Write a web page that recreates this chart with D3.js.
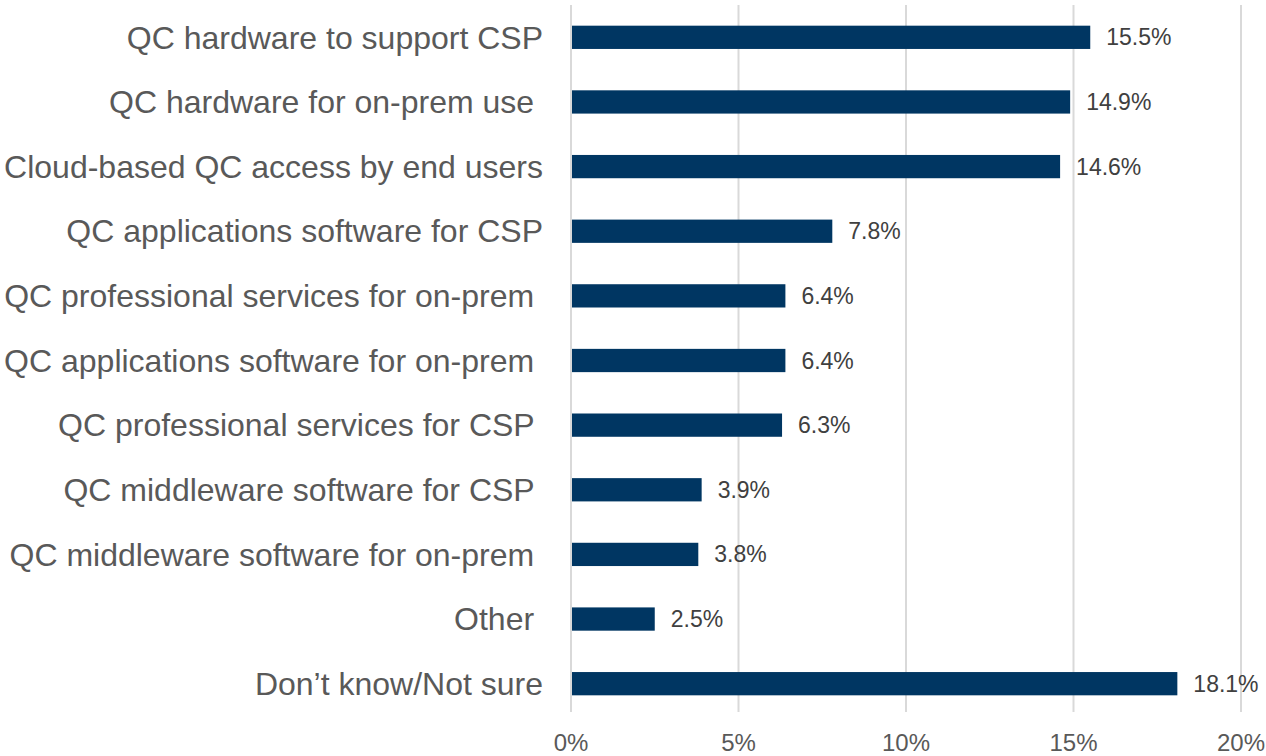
<!DOCTYPE html>
<html>
<head>
<meta charset="utf-8">
<script src="https://cdn.jsdelivr.net/npm/d3@7"></script>
<style>
  body { margin: 0; background: #fff; }
  text { font-family: "Liberation Sans", Arial, sans-serif; }
</style>
</head>
<body>
<script>
// categories top to bottom (trailing spaces kept as in the source)
var categories = [
  "QC hardware to support CSP",
  "QC hardware for on-prem use ",
  "Cloud-based QC access by end users",
  "QC applications software for CSP",
  "QC professional services for on-prem ",
  "QC applications software for on-prem ",
  "QC professional services for CSP ",
  "QC middleware software for CSP ",
  "QC middleware software for on-prem ",
  "Other ",
  "Don\u2019t know/Not sure"
];
var values = [15.5, 14.9, 14.6, 7.8, 6.4, 6.4, 6.3, 3.9, 3.8, 2.5, 18.1];
var ticks = [0, 5, 10, 15, 20];

var width = 1266, height = 756;
var plotLeft = 571, plotRight = 1241, plotTop = 5, plotBottom = 716;

var svg = d3.select("body").append("svg")
  .attr("width", width)
  .attr("height", height);

var x = d3.scaleLinear().domain([0, 20]).range([plotLeft, plotRight]);
var y = d3.scaleBand().domain(categories).range([plotTop, plotBottom]).paddingInner(0.64).paddingOuter(0.32);

// gridlines
svg.append("g").selectAll("line")
  .data(ticks)
  .enter().append("line")
  .attr("x1", function(d) { return x(d); })
  .attr("x2", function(d) { return x(d); })
  .attr("y1", plotTop)
  .attr("y2", plotBottom - 4)
  .attr("stroke", "#d9d9d9")
  .attr("stroke-width", 2);

// tick labels
svg.append("g").selectAll("text")
  .data(ticks)
  .enter().append("text")
  .attr("x", function(d) { return x(d); })
  .attr("y", 751)
  .attr("text-anchor", "middle")
  .attr("font-size", "24px")
  .attr("fill", "#595959")
  .text(function(d) { return d + "%"; });

// bars
svg.append("g").selectAll("rect")
  .data(values)
  .enter().append("rect")
  .attr("x", x(0) + 1)
  .attr("y", function(d, i) { return y(categories[i]); })
  .attr("width", function(d) { return x(d) - x(0) - 1; })
  .attr("height", y.bandwidth())
  .attr("fill", "#003662");

// value labels
svg.append("g").selectAll("text")
  .data(values)
  .enter().append("text")
  .attr("x", function(d) { return x(d) + 16; })
  .attr("y", function(d, i) { return y(categories[i]) + y.bandwidth() / 2; })
  .attr("dy", "0.35em")
  .attr("font-size", "23px")
  .attr("fill", "#404040")
  .text(function(d) { return d.toFixed(1) + "%"; });

// category labels
svg.append("g").selectAll("text")
  .data(categories)
  .enter().append("text")
  .attr("x", 543)
  .attr("y", function(d) { return y(d) + y.bandwidth() / 2; })
  .attr("dy", "0.35em")
  .attr("text-anchor", "end")
  .attr("font-size", "32px")
  .attr("fill", "#595959")
  .style("white-space", "pre")
  .text(function(d) { return d; });
</script>
</body>
</html>
